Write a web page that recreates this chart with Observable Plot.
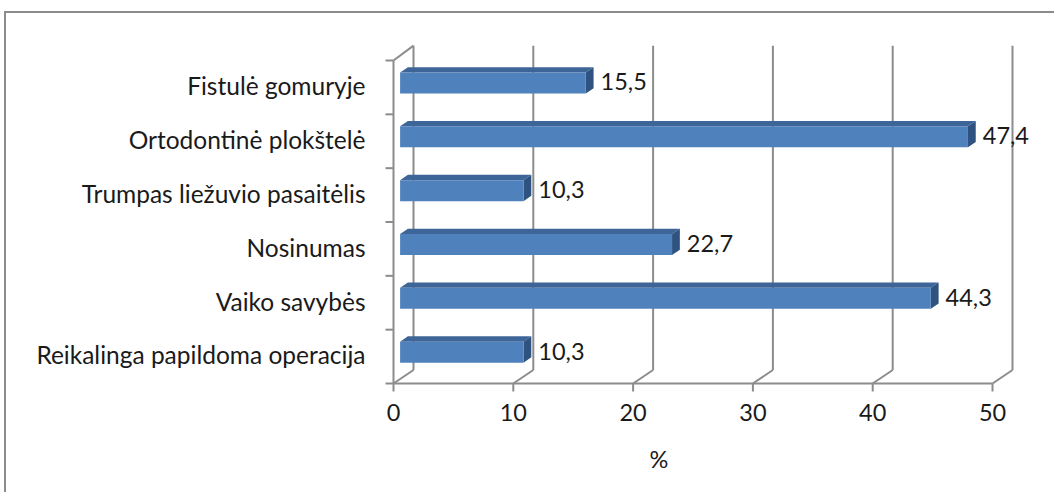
<!DOCTYPE html>
<html>
<head>
<meta charset="utf-8">
<script src="https://cdn.jsdelivr.net/npm/d3@7"></script>
<script src="https://cdn.jsdelivr.net/npm/@observablehq/plot@0.6"></script>
<style>
  body { margin: 0; background: #fff; }
  #chart { position: relative; width: 1054px; height: 492px; overflow: hidden; }
  #chart .frame { position: absolute; left: 4px; top: 11px; width: 1060px; height: 500px;
    border-left: 2px solid #8c8c8c; border-top: 2px solid #8c8c8c; }
  #chart svg { position: absolute; left: 0; top: 0; }
</style>
</head>
<body>
<div id="chart"><div class="frame"></div></div>
<script>
// Categories from top to bottom, with their shares in percent
const categories = [
  "Fistulė gomuryje",
  "Ortodontinė plokštelė",
  "Trumpas liežuvio pasaitėlis",
  "Nosinumas",
  "Vaiko savybės",
  "Reikalinga papildoma operacija"
];
const values = [15.5, 47.4, 10.3, 22.7, 44.3, 10.3];
const valueLabels = ["15,5", "47,4", "10,3", "22,7", "44,3", "10,3"];
const xTicks = [0, 10, 20, 30, 40, 50];

// Plot frame
const W = 1054, H = 492;
const mL = 393, mR = 62, mT = 60, mB = 109;
const xMax = 50, nCat = categories.length;
const kx = (W - mL - mR) / xMax;   // px per percent
const ky = (H - mT - mB) / nCat;   // px per category band

// 3-D depth of the chart box (px): back wall sits right and up
const DX = 20, DY = 13.5;
const fFront = 0.33, fBack = 0.72;   // bar front / back planes as fraction of depth
const halfBar = 0.195;               // half bar thickness, in band units

const sx = f => f * DX / kx;
const sy = f => f * DY / ky;
const center = i => nCat - i - 0.5;

// Bar faces as polygons in data space
const frontFaces = [], topFaces = [], sideFaces = [];
values.forEach((v, i) => {
  const c = center(i), y0 = c - halfBar, y1 = c + halfBar;
  const a = sx(fFront), b = sy(fFront), a2 = sx(fBack), b2 = sy(fBack);
  frontFaces.push(
    {id: i, x: 0 + a, y: y0 + b}, {id: i, x: v + a, y: y0 + b},
    {id: i, x: v + a, y: y1 + b}, {id: i, x: 0 + a, y: y1 + b});
  topFaces.push(
    {id: i, x: 0 + a, y: y1 + b}, {id: i, x: v + a, y: y1 + b},
    {id: i, x: v + a2, y: y1 + b2}, {id: i, x: 0 + a2, y: y1 + b2});
  sideFaces.push(
    {id: i, x: v + a, y: y0 + b}, {id: i, x: v + a, y: y1 + b},
    {id: i, x: v + a2, y: y1 + b2}, {id: i, x: v + a2, y: y0 + b2});
});

const gridColor = "#8c8c8c";
const textColor = "#1a1a1a";
const bands = d3.range(nCat + 1);

const chart = Plot.plot({
  width: W, height: H,
  marginLeft: mL, marginRight: mR, marginTop: mT, marginBottom: mB,
  x: {domain: [0, xMax], axis: null},
  y: {domain: [0, nCat], axis: null},
  style: {fontFamily: "Lato, 'Open Sans', sans-serif", fontSize: "23.5px", color: textColor, background: "transparent"},
  marks: [
    // back wall gridlines
    Plot.link(xTicks, {x1: d => d + sx(1), x2: d => d + sx(1), y1: sy(1), y2: nCat + sy(1.1),
      stroke: gridColor, strokeWidth: 2}),
    // floor diagonals
    Plot.link(xTicks, {x1: d => d, x2: d => d + sx(1), y1: 0, y2: sy(1), stroke: gridColor, strokeWidth: 2}),
    // front floor edge
    Plot.link([0], {x1: 0, x2: xMax, y1: 0, y2: 0, stroke: gridColor, strokeWidth: 2}),
    // left wall: front edge and top diagonal
    Plot.link([0], {x1: 0, x2: 0, y1: 0, y2: nCat, stroke: gridColor, strokeWidth: 2}),
    Plot.link([0], {x1: 0, x2: sx(1), y1: nCat, y2: nCat + sy(1.1), stroke: gridColor, strokeWidth: 2}),
    // category ticks
    Plot.link(bands, {x1: -8 / kx, x2: 0, y1: d => d, y2: d => d, stroke: gridColor, strokeWidth: 2}),
    // value ticks
    Plot.link(xTicks, {x1: d => d, x2: d => d, y1: 0, y2: -8 / ky, stroke: gridColor, strokeWidth: 2}),
    // bars
    Plot.line(topFaces, {x: "x", y: "y", z: "id", fill: "#3e6597", stroke: "none", curve: "linear-closed"}),
    Plot.line(sideFaces, {x: "x", y: "y", z: "id", fill: "#2f5380", stroke: "none", curve: "linear-closed"}),
    Plot.line(frontFaces, {x: "x", y: "y", z: "id", fill: "#4f81bd", stroke: "none", curve: "linear-closed"}),
    // value labels
    Plot.text(values, {x: (d, i) => d + sx(fBack), y: (d, i) => center(i) + sy(fFront),
      text: (d, i) => valueLabels[i], textAnchor: "start", dx: 7, fill: textColor}),
    // category labels
    Plot.text(categories, {x: 0, y: (d, i) => center(i), text: d => d, textAnchor: "end", dx: -28,
      fill: textColor, fontSize: 24.5}),
    // x tick labels
    Plot.text(xTicks, {x: d => d, y: 0, text: d => String(d), dy: 30, fill: textColor}),
    // axis title
    Plot.text(["%"], {x: xMax / 2, y: 0, text: d => d, dy: 77, dx: -34, fill: textColor})
  ]
});
document.getElementById("chart").appendChild(chart);
</script>
</body>
</html>
